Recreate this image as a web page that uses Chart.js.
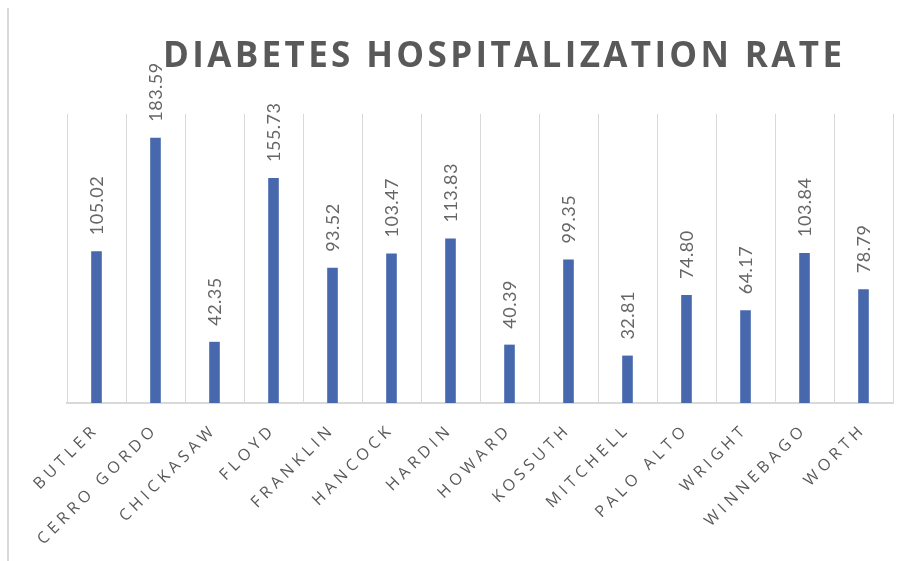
<!DOCTYPE html>
<html>
<head>
<meta charset="utf-8">
<script src="https://cdn.jsdelivr.net/npm/chart.js@4"></script>
<style>
  html, body { margin: 0; padding: 0; background: #ffffff; }
  #wrap { position: relative; width: 909px; height: 561px; overflow: hidden; }
  #frame { position: absolute; left: 7px; top: 8px; width: 2px; height: 560px; background: #d9d9d9; }
  canvas { position: absolute; left: 0; top: 0; }
</style>
</head>
<body>
<div id="wrap">
  <div id="frame"></div>
  <canvas id="c" width="909" height="561"></canvas>
</div>
<script>
const chartTitle = 'DIABETES HOSPITALIZATION RATE';
const counties = ['BUTLER', 'CERRO GORDO', 'CHICKASAW', 'FLOYD', 'FRANKLIN', 'HANCOCK', 'HARDIN', 'HOWARD', 'KOSSUTH', 'MITCHELL', 'PALO ALTO', 'WRIGHT', 'WINNEBAGO', 'WORTH'];
const rates = [105.02, 183.59, 42.35, 155.73, 93.52, 103.47, 113.83, 40.39, 99.35, 32.81, 74.80, 64.17, 103.84, 78.79];
const yMin = 0;
const yMax = 200;

const titlePlugin = {
  id: 'spacedTitle',
  afterDraw(chart) {
    const ctx = chart.ctx;
    ctx.save();
    ctx.font = 'bold 35px "Open Sans"';
    ctx.letterSpacing = '0px';
    const w0 = ctx.measureText(chartTitle).width;
    const target = 679;
    const sp = (target - w0) / (chartTitle.length - 1);
    ctx.letterSpacing = sp + 'px';
    ctx.fillStyle = '#595959';
    ctx.textAlign = 'left';
    ctx.textBaseline = 'alphabetic';
    ctx.fillText(chartTitle, 163, 67);
    ctx.restore();
  }
};

const spacingPlugin = {
  id: 'tickSpacing',
  beforeDraw(chart) {
    chart.ctx.letterSpacing = '4.5px';
  },
  beforeDatasetsDraw(chart) {
    chart.ctx.letterSpacing = '0px';
  }
};

const valueLabelPlugin = {
  id: 'valueLabels',
  afterDatasetsDraw(chart) {
    const ctx = chart.ctx;
    const meta = chart.getDatasetMeta(0);
    ctx.save();
    ctx.letterSpacing = '0.5px';
    ctx.font = '18px Lato';
    ctx.fillStyle = '#666666';
    ctx.textAlign = 'left';
    ctx.textBaseline = 'middle';
    meta.data.forEach((bar, i) => {
      const v = chart.data.datasets[0].data[i];
      ctx.save();
      ctx.translate(bar.x, bar.y - 16);
      ctx.rotate(-Math.PI / 2);
      ctx.fillText(v.toFixed(2), 0, 1);
      ctx.restore();
    });
    ctx.restore();
  }
};

new Chart(document.getElementById('c'), {
  type: 'bar',
  data: {
    labels: counties,
    datasets: [{
      data: rates,
      backgroundColor: '#4868AE',
      borderWidth: 0,
      categoryPercentage: 1.0,
      barPercentage: 0.18
    }]
  },
  options: {
    responsive: false,
    animation: false,
    devicePixelRatio: 1,
    layout: { padding: { top: 114, left: 67, right: 16, bottom: 0 } },
    plugins: {
      legend: { display: false },
      title: { display: false },
      tooltip: { enabled: false }
    },
    scales: {
      x: {
        grid: { display: true, color: '#d9d9d9', lineWidth: 1, drawTicks: false, offset: true },
        border: { display: true, color: '#d9d9d9', width: 2 },
        ticks: {
          color: '#595959',
          font: { family: 'Open Sans', size: 16 },
          minRotation: 45,
          maxRotation: 45,
          autoSkip: false,
          padding: 17
        },
        afterFit(scale) { scale.height = 158; }
      },
      y: {
        display: false,
        min: yMin,
        max: yMax
      }
    }
  },
  plugins: [spacingPlugin, valueLabelPlugin, titlePlugin]
});
</script>
</body>
</html>
